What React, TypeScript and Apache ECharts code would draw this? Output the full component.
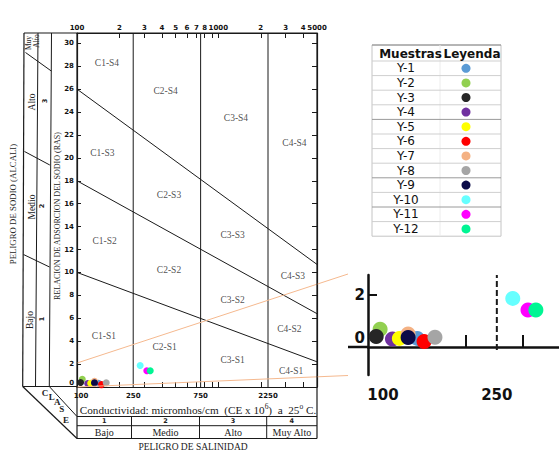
import React, { useEffect, useRef } from 'react';
import * as echarts from 'echarts';

// ---------- data ----------
const samples = ['Y-1', 'Y-2', 'Y-3', 'Y-4', 'Y-5', 'Y-6', 'Y-7', 'Y-8', 'Y-9', 'Y-10', 'Y-11', 'Y-12'];
const sampleCE = [142, 109, 106, 119, 125, 149, 133, 161, 133, 280, 312, 330];
const sampleSAR = [0.33, 0.68, 0.4, 0.31, 0.33, 0.21, 0.5, 0.37, 0.36, 1.87, 1.42, 1.42];
const sampleColors = ['#5b9bd5', '#92d050', '#262626', '#7030a0', '#ffff00', '#ff0000', '#f4b183', '#a5a5a5', '#0b0b48', '#66ffff', '#ff00ff', '#00f593'];

const ceMin = 100;
const ceMax = 5000;
const sarMax = 30.9;
const salinityBounds = [250, 750, 2250];
const sodiumBoundLeft = [10, 18, 26];
const sodiumBoundRight = [2.2, 6.4, 10.7];

const sarTicks = [0, 2, 4, 6, 8, 10, 12, 14, 16, 18, 20, 22, 24, 26, 28, 30];
const ceMinorTicks = [200, 300, 400, 500, 600, 700, 800, 900, 1000, 2000, 3000, 4000];
const ceTopLabels = [100, 200, 300, 400, 500, 600, 700, 800, 1000, 2000, 3000, 4000, 5000];
const ceBottomLabels = [100, 250, 750, 2250];

const classNames = ['C1-S4', 'C2-S4', 'C3-S4', 'C4-S4', 'C1-S3', 'C2-S3', 'C3-S3', 'C4-S3', 'C1-S2', 'C2-S2', 'C3-S2', 'C4-S2', 'C1-S1', 'C2-S1', 'C3-S1', 'C4-S1'];
const classCE = [163, 424, 1334, 3463, 151, 448, 1264, 3374, 157, 448, 1264, 3190, 155, 417, 1264, 3281];
const classSAR = [28.3, 25.85, 23.45, 21.3, 20.45, 16.8, 13.25, 9.7, 12.75, 10.2, 7.6, 5.05, 4.45, 3.5, 2.35, 1.4];

const salinityClasses = ['1', '2', '3', '4'];
const salinityLevels = ['Bajo', 'Medio', 'Alto', 'Muy Alto'];
const sodiumLevels = ['Bajo', 'Medio', 'Alto'];
const sodiumClasses = ['1', '2', '3'];

const insetCEMax = 389;
const insetSARMin = -1.08;
const insetSARMax = 2.77;
const insetTicksX = [200, 300];
const insetLabelsX = [100, 250];
const insetLabelsY = [0, 2];
const insetDashCE = 250;

// ---------- helpers ----------
const LOG = Math.log10;
const SERIF = '"Liberation Serif", "DejaVu Serif", serif';
const NUM = '"DejaVu Sans", sans-serif';
const INK = '#1a1a1a';

const ln = (x1: number, y1: number, x2: number, y2: number, w = 1, color = INK, z = 15) => ({
  type: 'line', silent: true, z,
  shape: { x1, y1, x2, y2 },
  style: { stroke: color, lineWidth: w },
});

const txt = (text: string, x: number, y: number, o: any = {}) => ({
  type: 'text', silent: true, z: 20, x, y, rotation: o.rot || 0,
  style: {
    text, x: 0, y: 0, fill: o.color || '#222', fontSize: o.size || 9,
    fontFamily: o.family || SERIF, fontWeight: o.weight || 'normal',
    align: o.align || 'center', verticalAlign: 'middle', rich: o.rich,
  },
});

function buildOption() {
  const series: any[] = [];

  salinityBounds.forEach((b) => {
    series.push({
      type: 'line', xAxisIndex: 0, yAxisIndex: 0, silent: true, symbol: 'none',
      data: [[LOG(b), 0], [LOG(b), sarMax]],
      lineStyle: { color: INK, width: 1 }, z: 3,
    });
  });
  sodiumBoundLeft.forEach((v, i) => {
    series.push({
      type: 'line', xAxisIndex: 0, yAxisIndex: 0, silent: true, symbol: 'none',
      data: [[LOG(ceMin), v], [LOG(ceMax), sodiumBoundRight[i]]],
      lineStyle: { color: INK, width: 1 }, z: 3,
    });
  });
  series.push({
    type: 'scatter', xAxisIndex: 0, yAxisIndex: 0, silent: true, symbolSize: 1,
    itemStyle: { color: 'rgba(0,0,0,0)' },
    data: classNames.map((n, i) => ({ name: n, value: [LOG(classCE[i]), classSAR[i]] })),
    label: { show: true, position: 'inside', formatter: '{b}', color: '#222', fontFamily: SERIF, fontSize: 9.5 },
    z: 4,
  });
  samples.forEach((name, i) => {
    series.push({
      name, type: 'scatter', xAxisIndex: 0, yAxisIndex: 0, symbolSize: 7,
      itemStyle: { color: sampleColors[i], opacity: 1 },
      data: [[LOG(sampleCE[i]), sampleSAR[i]]], z: 6,
    });
  });
  series.push({
    type: 'line', xAxisIndex: 2, yAxisIndex: 2, silent: true, symbol: 'none',
    data: [[LOG(insetDashCE), -0.12], [LOG(insetDashCE), insetSARMax]],
    lineStyle: { color: INK, width: 2, type: [6, 3] }, z: 3,
  });
  samples.forEach((name, i) => {
    series.push({
      name, type: 'scatter', xAxisIndex: 2, yAxisIndex: 2, symbolSize: 15,
      itemStyle: { color: sampleColors[i], opacity: 1 },
      data: [[LOG(sampleCE[i]), sampleSAR[i]]], z: 6,
    });
  });

  const numLabel = { fontSize: 7, fontWeight: 'bold', fontFamily: NUM, color: '#111' };
  const bigLabel = { fontSize: 15, fontWeight: 'bold', fontFamily: NUM, color: '#111' };

  const graphic: any[] = [];
  // frame
  graphic.push(ln(24, 33, 317, 33, 1.2));
  graphic.push(ln(77, 33, 77, 438.5, 1.2));
  graphic.push(ln(317, 33, 317, 438.5, 1.2));
  // left panel
  graphic.push(ln(24, 33, 22.7, 386.5, 1.2));
  graphic.push(ln(38, 33, 35.5, 386.5, 1));
  graphic.push(ln(51.5, 33, 49.3, 386.5, 1));
  graphic.push(ln(22.7, 386.5, 77, 386.5, 1.2));
  graphic.push(ln(25.5, 52.5, 51.3, 71));
  graphic.push(ln(24.5, 151.5, 49.8, 165));
  graphic.push(ln(23.5, 254.5, 49.5, 267));
  // CLASE corner
  graphic.push(ln(22.7, 386.5, 77, 438.5, 1.2));
  graphic.push(ln(49.3, 386.5, 77, 416.5, 1));
  // bottom table
  graphic.push(ln(77, 416.5, 317, 416.5));
  graphic.push(ln(77, 425.7, 317, 425.7));
  graphic.push(ln(77, 438.5, 317, 438.5, 1.2));
  const colX = [77, 131.5, 199.5, 266.7, 317];
  [131.5, 199.5, 266.7].forEach((x) => graphic.push(ln(x, 416.5, x, 438.5)));
  salinityClasses.forEach((c, i) => {
    const cx = (colX[i] + colX[i + 1]) / 2;
    graphic.push(txt(c, cx, 421, { size: 6.5, weight: 'bold', family: NUM }));
    graphic.push(txt(salinityLevels[i], cx, 432.3, { size: 10 }));
  });
  graphic.push(txt('{n|Conductividad: micromhos/cm  (CE x 10}{s|6}{n|)  a  25}{s|o}{n| C.}', 198, 410, {
    rich: {
      n: { fontSize: 11.2, fontFamily: SERIF, color: '#222' },
      s: { fontSize: 7.5, fontFamily: SERIF, color: '#222', padding: [0, 0, 7, 0] },
    },
  }));
  graphic.push(txt('PELIGRO DE SALINIDAD', 193, 447, { size: 9.5 }));
  // CLASE letters
  const clase = ['C', 'L', 'A', 'S', 'E'];
  const claseX = [45, 51.7, 57.3, 61.7, 66];
  const claseY = [393, 397, 402, 409, 419.5];
  clase.forEach((c, i) => graphic.push(txt(c, claseX[i], claseY[i], { size: 9, weight: 'bold' })));
  // rotated titles
  graphic.push(txt('PELIGRO DE SODIO (ALCALI)', 13, 204, { size: 8.8, rot: Math.PI / 2 }));
  graphic.push(txt('RELACION DE ADSORCION DEL SODIO (RAS)', 57, 216, { size: 8, rot: Math.PI / 2 }));
  // sodium hazard column labels
  const levelY = [320, 207, 102];
  const levelX = [29.5, 31.5, 31.5];
  const numX = [42, 42, 45];
  sodiumLevels.forEach((l, i) => {
    graphic.push(txt(l, levelX[i], levelY[i], { size: 9.5, rot: Math.PI / 2 }));
    graphic.push(txt(sodiumClasses[i], numX[i], levelY[i] - 1, { size: 6.5, weight: 'bold', family: NUM, rot: Math.PI / 2 }));
  });
  graphic.push(txt('Muy', 28.5, 43, { size: 7.5, rot: Math.PI / 2 }));
  graphic.push(txt('Alto', 36, 41, { size: 7.5, rot: Math.PI / 2 }));
  // connector lines to the inset
  graphic.push(ln(77, 363, 348, 274, 1, '#f5b98f', 8));
  graphic.push(ln(77, 387, 348, 375.5, 1, '#f5b98f', 8));
  // inset x-axis extension to the left
  graphic.push(ln(348, 347, 368, 347, 2.5, '#111'));

  // legend table
  const tL = 372, tR = 501, tT = 45, hB = 61, rowH = 14.6;
  const tB = hB + rowH * samples.length;
  graphic.push({ type: 'rect', silent: true, z: 1, shape: { x: tL, y: tT, width: tR - tL, height: tB - tT }, style: { fill: '#fff', stroke: '#c4c4c4', lineWidth: 1 } });
  graphic.push(ln(tL, tT, tR, tT, 1.2, '#8a8a8a', 2));
  graphic.push(ln(440, tT, 440, tB, 1, '#ececec', 2));
  const darkRows = [4, 8, 10];
  for (let k = 0; k < samples.length; k++) {
    const y = hB + rowH * k;
    graphic.push(ln(tL, y, tR, y, 1, darkRows.includes(k) ? '#9a9a9a' : '#cfcfcf', 2));
  }
  graphic.push(txt('Muestras', 410.5, 53.5, { size: 12, weight: 'bold', family: NUM, color: '#111' }));
  graphic.push(txt('Leyenda', 472, 53.5, { size: 12, weight: 'bold', family: NUM, color: '#111' }));

  return {
    animation: false,
    backgroundColor: '#ffffff',
    grid: [
      { left: 77, top: 33, width: 240, height: 354 },
      { left: 368, top: 275, width: 191, height: 100 },
    ],
    xAxis: [
      {
        gridIndex: 0, type: 'value', position: 'bottom', min: LOG(ceMin), max: LOG(ceMax),
        axisLine: { onZero: false, lineStyle: { color: INK, width: 1.2 } },
        axisTick: { inside: true, length: 5, customValues: ceMinorTicks.map(LOG), lineStyle: { color: INK } },
        axisLabel: {
          ...numLabel, margin: 5, customValues: ceBottomLabels.map(LOG),
          formatter: (v: number) => {
            const n = Math.round(Math.pow(10, v));
            return n === 100 ? '{l|100}' : String(n);
          },
          rich: { l: { ...numLabel, padding: [0, 0, 0, 8] } },
        },
        splitLine: { show: false },
      },
      {
        gridIndex: 0, type: 'value', position: 'top', min: LOG(ceMin), max: LOG(ceMax),
        axisLine: { onZero: false, lineStyle: { color: INK, width: 1.2 } },
        axisTick: { inside: true, length: 5, customValues: ceMinorTicks.map(LOG), lineStyle: { color: INK } },
        axisLabel: {
          ...numLabel, margin: 2, customValues: ceTopLabels.map(LOG),
          formatter: (v: number) => {
            const n = Math.round(Math.pow(10, v));
            if (n === 100 || n === 1000 || n === 5000) return String(n);
            return String(n).charAt(0);
          },
        },
        splitLine: { show: false },
      },
      {
        gridIndex: 1, type: 'value', min: LOG(ceMin), max: LOG(insetCEMax),
        axisLine: { onZero: true, lineStyle: { color: '#111', width: 2.5 } },
        axisTick: { inside: true, length: 12, customValues: insetTicksX.map(LOG), lineStyle: { color: '#111', width: 2 } },
        axisLabel: {
          ...bigLabel, margin: 12, customValues: insetLabelsX.map(LOG),
          formatter: (v: number) => {
            const n = Math.round(Math.pow(10, v));
            return n === 100 ? '{l|100}' : String(n);
          },
          rich: { l: { ...bigLabel, padding: [0, 0, 0, 30] } },
        },
        splitLine: { show: false },
      },
    ],
    yAxis: [
      {
        gridIndex: 0, type: 'value', position: 'left', min: 0, max: sarMax,
        axisLine: { show: true, lineStyle: { color: INK, width: 1.2 } },
        axisTick: { show: true, inside: true, length: 4, customValues: sarTicks, lineStyle: { color: INK } },
        axisLabel: {
          ...numLabel, margin: 3, customValues: sarTicks,
          formatter: (v: number) => (v === 0 ? '{z|0}' : String(v)),
          rich: { z: { ...numLabel, padding: [0, 0, 8, 0] } },
        },
        splitLine: { show: false },
      },
      {
        gridIndex: 0, type: 'value', position: 'right', min: 0, max: sarMax,
        axisLine: { show: true, lineStyle: { color: INK, width: 1.2 } },
        axisTick: { show: true, inside: true, length: 5, customValues: sarTicks, lineStyle: { color: INK } },
        axisLabel: { show: false },
        splitLine: { show: false },
      },
      {
        gridIndex: 1, type: 'value', min: insetSARMin, max: insetSARMax,
        axisLine: { show: true, lineStyle: { color: '#111', width: 2.5 } },
        axisTick: { show: true, inside: true, length: 9, customValues: [2], lineStyle: { color: '#111', width: 2 } },
        axisLabel: {
          ...bigLabel, margin: 3, customValues: insetLabelsY,
          formatter: (v: number) => (v === 0 ? '{z|0}' : String(v)),
          rich: { z: { ...bigLabel, padding: [0, 0, 18, 0] } },
        },
        splitLine: { show: false },
      },
    ],
    legend: {
      data: samples,
      orient: 'vertical', left: 355.5, top: hB, padding: 0, itemGap: 0,
      itemWidth: 9, itemHeight: 9, icon: 'circle', align: 'right', selectedMode: false, z: 10,
      formatter: (n: string) => `{t|${n}}`,
      textStyle: {
        fontFamily: NUM, fontSize: 12, color: '#111',
        rich: { t: { width: 101, height: rowH, lineHeight: rowH, align: 'center', fontFamily: NUM, fontSize: 12, color: '#111' } },
      },
    },
    graphic,
    series,
  };
}

export default function App() {
  const ref = useRef<HTMLDivElement>(null);
  useEffect(() => {
    const chart = echarts.init(ref.current!, null, { renderer: 'svg' });
    chart.setOption(buildOption() as any);
    return () => chart.dispose();
  }, []);
  return <div ref={ref} style={{ position: 'fixed', left: 0, top: 0, width: 559, height: 457 }} />;
}
